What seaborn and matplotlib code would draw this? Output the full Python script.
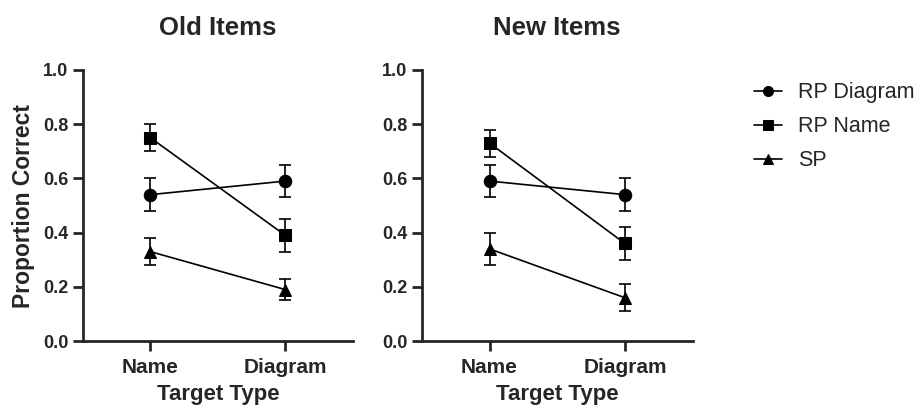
import numpy as np
import pandas as pd
import matplotlib
matplotlib.use("Agg")
import matplotlib.pyplot as plt
import seaborn as sns

sns.set_style("ticks")
plt.rcParams['font.family'] = ['Liberation Sans', 'DejaVu Sans']

# Data (mean proportion correct and error bar half-width)
targets = ["Name", "Diagram"]
conditions = ["RP Diagram", "RP Name", "SP"]
panels = ["Old Items", "New Items"]

old_rp_diagram = [0.54, 0.59]
old_rp_name = [0.75, 0.39]
old_sp = [0.33, 0.19]
old_rp_diagram_err = [0.06, 0.06]
old_rp_name_err = [0.05, 0.06]
old_sp_err = [0.05, 0.04]

new_rp_diagram = [0.59, 0.54]
new_rp_name = [0.73, 0.36]
new_sp = [0.34, 0.16]
new_rp_diagram_err = [0.06, 0.06]
new_rp_name_err = [0.05, 0.06]
new_sp_err = [0.06, 0.05]

rows = []
panel_data = {
    "Old Items": [(old_rp_diagram, old_rp_diagram_err), (old_rp_name, old_rp_name_err), (old_sp, old_sp_err)],
    "New Items": [(new_rp_diagram, new_rp_diagram_err), (new_rp_name, new_rp_name_err), (new_sp, new_sp_err)],
}
for panel, series in panel_data.items():
    for cond, (vals, errs) in zip(conditions, series):
        for t, v, e in zip(targets, vals, errs):
            rows.append({'panel': panel, 'condition': cond, 'target': t, 'mean': v, 'err': e})
df = pd.DataFrame(rows)

markers = {"RP Diagram": "o", "RP Name": "s", "SP": "^"}

fig = plt.figure(figsize=(9.21, 4.11), dpi=100)
ax1 = fig.add_axes([0.090, 0.170, 0.293, 0.660])
ax2 = fig.add_axes([0.458, 0.170, 0.294, 0.660])

for ax, panel in zip([ax1, ax2], panels):
    sub = df[df['panel'] == panel]
    sns.lineplot(data=sub, x='target', y='mean', style='condition', markers=markers,
                 dashes=False, color='black', markersize=9, linewidth=1.2,
                 markeredgecolor='black', ax=ax, legend=(panel == "New Items"),
                 style_order=conditions)
    for cond in conditions:
        c = sub[sub['condition'] == cond]
        ax.errorbar(c['target'], c['mean'], yerr=c['err'], fmt='none',
                    ecolor='black', elinewidth=1.2, capsize=4.5, capthick=1.2, zorder=1)
    ax.set_xlim(-0.5, 1.5)
    ax.set_ylim(0, 1.0)
    ax.set_yticks(np.arange(0, 1.01, 0.2))
    ax.set_yticklabels([f"{v:.1f}" for v in np.arange(0, 1.01, 0.2)])
    ax.set_title(panel, fontsize=18.5, fontweight='bold', pad=25)
    ax.set_xlabel("Target Type", fontsize=16, fontweight='bold', labelpad=5)
    ax.set_ylabel("")
    sns.despine(ax=ax)
    for s in ['left', 'bottom']:
        ax.spines[s].set_linewidth(2)
    ax.tick_params(axis='y', width=2, length=7.5, pad=3, labelsize=13)
    ax.tick_params(axis='x', width=2, length=7.5, pad=5, labelsize=15)
    for lab in ax.get_xticklabels() + ax.get_yticklabels():
        lab.set_fontweight('bold')

ax1.set_ylabel("Proportion Correct", fontsize=16.5, fontweight='bold', labelpad=6)

handles, labels = ax2.get_legend_handles_labels()
ax2.get_legend().remove()
fig.legend(handles, labels, loc='upper left', bbox_to_anchor=(0.798, 0.847),
           frameon=False, fontsize=15.5, handlelength=1.3, handletextpad=0.75,
           labelspacing=0.6, markerscale=0.8)

fig.savefig("out.png", dpi=100)
